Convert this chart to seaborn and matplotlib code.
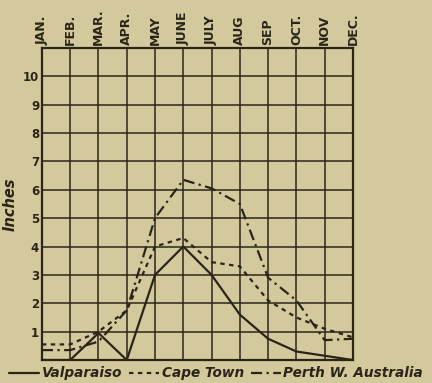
import pandas as pd
import seaborn as sns
import matplotlib.pyplot as plt
from matplotlib.lines import Line2D

# monthly rainfall, inches
months = ["JAN.", "FEB.", "MAR.", "APR.", "MAY", "JUNE", "JULY", "AUG", "SEP", "OCT.", "NOV", "DEC."]
valparaiso = [0.0, 0.0, 0.95, 0.0, 3.0, 4.0, 3.0, 1.6, 0.75, 0.3, 0.15, 0.0]
cape_town = [0.55, 0.55, 1.0, 1.75, 4.0, 4.3, 3.45, 3.3, 2.1, 1.5, 1.1, 0.8]
perth = [0.35, 0.35, 0.65, 1.75, 5.0, 6.35, 6.05, 5.5, 2.9, 2.1, 0.7, 0.75]
y_ticks = list(range(1, 11))

ink = "#2b2519"
paper = "#d4c99c"

sns.set_theme(style="white")
plt.rcParams["font.family"] = ["DejaVu Sans"]

df = pd.DataFrame({"month": months, "Valparaiso": valparaiso,
                   "Cape Town": cape_town, "Perth W. Australia": perth})
df["pos"] = range(len(months))

fig = plt.figure(figsize=(4.32, 3.83), dpi=100, facecolor=paper)
ax = fig.add_axes([0.097, 0.060, 0.720, 0.815])
ax.set_facecolor(paper)

styles = {"Valparaiso": "-", "Cape Town": (0, (2, 2)), "Perth W. Australia": (0, (5, 2, 1, 2))}
for name, ls in styles.items():
    sns.lineplot(data=df, x="pos", y=name, ax=ax, color=ink, lw=1.6,
                 linestyle=ls, sort=False)

ax.set_xlim(0, 11)
ax.set_ylim(0, 11)
ax.set_xticks(range(12))
ax.set_yticks(range(0, 12))
ax.grid(True, color=ink, lw=1.1)
for s in ax.spines.values():
    s.set_color(ink)
    s.set_linewidth(1.6)

ax.xaxis.tick_top()
ax.set_xticklabels(months, rotation=90, fontsize=9, fontweight="bold", color=ink)
ax.set_yticklabels([""] + [str(t) for t in y_ticks] + [""], fontsize=8.5,
                   fontweight="bold", color=ink)
ax.tick_params(length=0, pad=2)
ax.set_xlabel("")
ax.set_ylabel("Inches", fontsize=10.5, fontstyle="italic", fontweight="bold",
              color=ink, labelpad=4)

handles = [Line2D([], [], color=ink, lw=1.6, linestyle=ls) for ls in styles.values()]
fig.legend(handles, list(styles.keys()), loc="lower center", ncol=3,
           bbox_to_anchor=(0.5, -0.025), frameon=False, handlelength=2.2,
           handletextpad=0.2, columnspacing=0.5,
           prop={"style": "italic", "weight": "bold", "size": 9.8})
for t in fig.legends[0].get_texts():
    t.set_color(ink)

fig.savefig("out.png", dpi=100, facecolor=paper)
